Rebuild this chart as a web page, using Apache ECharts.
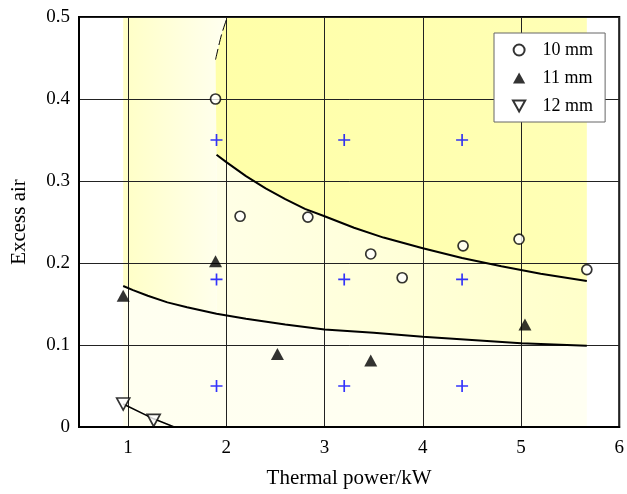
<!DOCTYPE html>
<html>
<head>
<meta charset="utf-8">
<script src="https://cdn.jsdelivr.net/npm/echarts@6/dist/echarts.min.js"></script>
<style>
  html, body { margin: 0; padding: 0; background: #fff; }
  #chart { width: 627px; height: 494px; }
</style>
</head>
<body>
<div id="chart"></div>
<script>
// Measured operating points, excess air vs thermal power
const series10mm = [[1.89, 0.400], [2.14, 0.257], [2.83, 0.256], [3.47, 0.211], [3.79, 0.182], [4.41, 0.221], [4.98, 0.229], [5.67, 0.192]];
const series11mm = [[0.95, 0.160], [1.89, 0.202], [2.52, 0.089], [3.47, 0.081], [5.04, 0.125]];
const series12mm = [[0.95, 0.028], [1.26, 0.008]];

// Reference test points (blue crosses)
const crossPoints = [
  [1.9, 0.35], [3.2, 0.35], [4.4, 0.35],
  [1.9, 0.18], [3.2, 0.18], [4.4, 0.18],
  [1.9, 0.05], [3.2, 0.05], [4.4, 0.05]
];

// Boundary curves of the operating regions
const upperCurve = [[1.9, 0.332], [2.0, 0.323], [2.2, 0.306], [2.4, 0.291], [2.6, 0.278], [2.8, 0.266], [3.0, 0.257], [3.3, 0.243], [3.6, 0.231], [4.0, 0.218], [4.4, 0.206], [4.8, 0.196], [5.2, 0.187], [5.67, 0.178]];
const lowerCurve = [[0.95, 0.172], [1.05, 0.167], [1.2, 0.160], [1.4, 0.152], [1.6, 0.146], [1.9, 0.138], [2.2, 0.132], [2.6, 0.125], [3.0, 0.119], [3.5, 0.115], [4.0, 0.110], [4.5, 0.106], [5.0, 0.102], [5.67, 0.099]];
const dashedCurve = [[1.89, 0.448], [1.95, 0.478], [2.01, 0.5]];
const line12mm = [[0.95, 0.028], [1.26, 0.010], [1.47, 0.0]];

// Extent of the shaded test range
const powerRange = [0.95, 5.67];
const airRange = [0, 0.5];

// Axis ticks
const xTickLabels = ['1', '2', '3', '4', '5', '6'];
const yTickLabels = ['0', '0.1', '0.2', '0.3', '0.4', '0.5'];

const FONT = 'Liberation Serif';

// Region outlines assembled from the boundary curves
const xL = powerRange[0], xR = powerRange[1];
const yBot = airRange[0], yTop = airRange[1];
const xSplit = upperCurve[0][0];
const lowerLeft = lowerCurve.filter(p => p[0] <= xSplit);
const lowerRight = lowerCurve.filter(p => p[0] >= xSplit);

const regions = [
  { // below the lower curve
    points: [[xL, yBot], [xR, yBot]].concat(lowerCurve.slice().reverse()),
    colors: ['#fffff0', '#fffff2']
  },
  { // low-power band above the lower curve
    points: [[xL, yTop]].concat(dashedCurve.slice().reverse(), [upperCurve[0]], lowerLeft.slice().reverse()),
    colors: ['#ffffc6', '#fffff0']
  },
  { // between the two curves
    points: upperCurve.concat(lowerRight.slice().reverse()),
    colors: ['#ffffe6', '#ffffca']
  },
  { // above the upper curve
    points: dashedCurve.concat([[xR, yTop]], upperCurve.slice().reverse()),
    colors: ['#ffffa8', '#ffffb6']
  }
];

const TRIANGLE_UP = 'path://M5,0L10,9L0,9Z';
const TRIANGLE_DOWN = 'path://M0,0L10,0L5,9Z';
const CROSS = 'path://M4.3,0H5.7V4.3H10V5.7H5.7V10H4.3V5.7H0V4.3H4.3Z';

const chart = echarts.init(document.getElementById('chart'), null, { renderer: 'canvas' });

const option = {
  backgroundColor: '#fff',
  animation: false,
  textStyle: { fontFamily: FONT },
  grid: {
    left: 79, right: 4, top: 17, bottom: 64,
    show: true, borderColor: '#000', borderWidth: 2,
    backgroundColor: 'rgba(0,0,0,0)', z: 1
  },
  legend: {
    data: ['10 mm', '11 mm', '12 mm'],
    orient: 'vertical',
    left: 494, top: 33,
    backgroundColor: '#fff',
    borderColor: '#666', borderWidth: 1,
    padding: [7, 12, 6, 18],
    itemWidth: 37, itemHeight: 11, itemGap: 8,
    textStyle: { fontFamily: FONT, fontSize: 18, color: '#000', lineHeight: 20 }
  },
  xAxis: {
    type: 'value', min: 0.5, max: 6, interval: 0.5, z: 1,
    name: 'Thermal power/kW', nameLocation: 'middle', nameGap: 41,
    nameTextStyle: { fontFamily: FONT, fontSize: 21, color: '#000' },
    axisLine: { lineStyle: { color: '#000', width: 2 } },
    axisTick: { show: false },
    axisLabel: {
      margin: 12, fontFamily: FONT, fontSize: 19, color: '#000',
      formatter: v => (Number.isInteger(v) ? xTickLabels[v - 1] : '')
    },
    splitLine: { show: true, lineStyle: { color: ['rgba(0,0,0,0)', '#222'], width: 1 } }
  },
  yAxis: {
    type: 'value', min: 0, max: 0.5, interval: 0.1, z: 1,
    name: 'Excess air', nameLocation: 'middle', nameGap: 49,
    nameTextStyle: { fontFamily: FONT, fontSize: 21, color: '#000' },
    axisLine: { lineStyle: { color: '#000', width: 2 } },
    axisTick: { show: false },
    axisLabel: {
      margin: 9, fontFamily: FONT, fontSize: 19, color: '#000',
      formatter: v => yTickLabels[Math.round(v * 10)]
    },
    splitLine: { show: true, lineStyle: { color: '#222', width: 1 } }
  },
  series: [
    {
      type: 'custom', name: 'regions', z: 0, silent: true,
      data: [[xL, yBot]],
      renderItem: function (params, api) {
        return {
          type: 'group',
          children: regions.map(r => ({
            type: 'polygon',
            shape: { points: r.points.map(p => api.coord(p)) },
            style: {
              fill: new echarts.graphic.LinearGradient(0, 0, 1, 0, [
                { offset: 0, color: r.colors[0] },
                { offset: 1, color: r.colors[1] }
              ]),
              stroke: null
            }
          }))
        };
      }
    },
    {
      type: 'line', name: 'upper', data: upperCurve, symbol: 'none', silent: true, z: 2,
      lineStyle: { color: '#000', width: 2 }
    },
    {
      type: 'line', name: 'lower', data: lowerCurve, symbol: 'none', silent: true, z: 2,
      lineStyle: { color: '#000', width: 2 }
    },
    {
      type: 'line', name: 'dashed', data: dashedCurve, symbol: 'none', silent: true, z: 2,
      smooth: 0.3,
      lineStyle: { color: '#000', width: 1, type: [11, 4] }
    },
    {
      type: 'line', name: 'line12', data: line12mm, symbol: 'none', silent: true, z: 2,
      lineStyle: { color: '#000', width: 1.5 }
    },
    {
      type: 'scatter', name: 'cross', data: crossPoints, z: 3,
      symbol: CROSS, symbolSize: 12,
      itemStyle: { color: '#0000ff' }
    },
    {
      type: 'scatter', name: '10 mm', data: series10mm, z: 4,
      symbol: 'circle', symbolSize: 10,
      itemStyle: { color: '#fff', borderColor: '#000', borderWidth: 1.7 }
    },
    {
      type: 'scatter', name: '11 mm', data: series11mm, z: 4,
      symbol: TRIANGLE_UP, symbolSize: [13, 12],
      itemStyle: { color: '#000' }
    },
    {
      type: 'scatter', name: '12 mm', data: series12mm, z: 4,
      symbol: TRIANGLE_DOWN, symbolSize: [13, 12],
      itemStyle: { color: '#fff', borderColor: '#000', borderWidth: 1.7 }
    }
  ]
};

chart.setOption(option);
</script>
</body>
</html>
